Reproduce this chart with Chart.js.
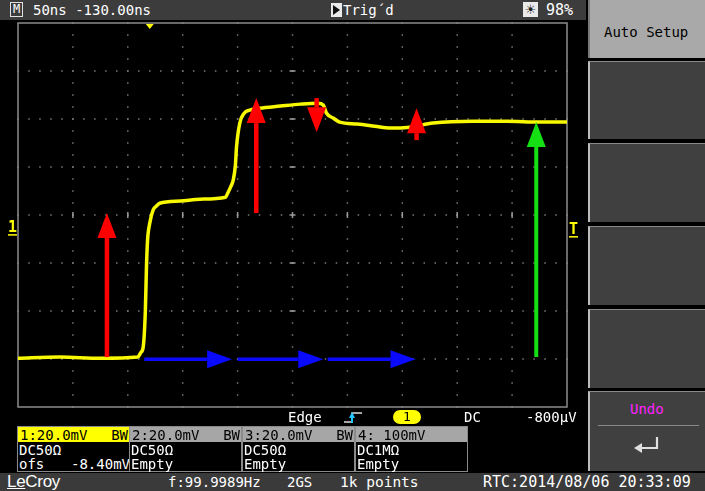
<!DOCTYPE html>
<html>
<head>
<meta charset="utf-8">
<script src="https://cdn.jsdelivr.net/npm/chart.js@4.4.0/dist/chart.umd.min.js"></script>
<style>
  html,body{margin:0;padding:0;background:#000;}
  body{width:705px;height:491px;position:relative;overflow:hidden;font-family:"DejaVu Sans Mono",monospace;color:#fff;}
  .abs{position:absolute;white-space:pre;}
  .ico{position:absolute;white-space:normal;line-height:0;}
  .ico svg{display:block;}
  .t{font-size:14px;line-height:16px;}
  #topbar{left:0;top:0;width:586px;height:20px;background:#3c3c3c;}
  .btn{position:absolute;left:588px;width:117px;background:#404040;border-left:2px solid #bdbdbd;border-top:1px solid #8a8a8a;box-sizing:border-box;}
  #status{left:0;top:473px;width:705px;height:18px;background:#3a3a3a;}
  .col{position:absolute;top:426px;width:113px;height:46px;box-sizing:border-box;border:1px solid #8a8a8a;background:#000;}
  .hdr{position:absolute;left:0;top:0;width:100%;height:15px;background:#a6a6a6;color:#000;}
</style>
</head>
<body>
<div class="abs" id="topbar"></div>
<div class="abs" style="left:10px;top:2px;width:13px;height:15px;border:1px solid #e0e0e0;box-sizing:border-box;font-size:12px;line-height:13px;text-align:center;">M</div>
<div class="abs t" style="left:33px;top:2px;">50ns -130.00ns</div>
<div class="abs" style="left:331px;top:3px;width:11px;height:14px;background:#eaeaea;"></div>
<div class="abs" style="left:333px;top:5px;width:0;height:0;border-top:5px solid transparent;border-bottom:5px solid transparent;border-left:7px solid #111;"></div>
<div class="abs t" style="left:343px;top:2px;">Trig´d</div>
<div class="abs" style="left:523px;top:2px;width:15px;height:15px;background:#eaeaea;color:#222;font-family:'DejaVu Sans';font-size:13px;line-height:15px;text-align:center;">☀</div>
<div class="abs" style="left:546px;top:2px;font-size:15px;line-height:16px;">98%</div>

<div class="btn" style="top:0;height:58px;background:#a9a9a9;border-top:none;border-left:2px solid #7a7a7a;"></div>
<div class="abs t" style="left:604px;top:24px;color:#000;">Auto Setup</div>
<div class="btn" style="top:61px;height:78px;"></div>
<div class="btn" style="top:143px;height:79px;"></div>
<div class="btn" style="top:226px;height:79px;"></div>
<div class="btn" style="top:309px;height:79px;"></div>
<div class="btn" style="top:391px;height:80px;"></div>
<div class="abs t" style="left:630px;top:401px;color:#ff22ff;">Undo</div>
<div class="abs" style="left:598px;top:425px;width:101px;height:1px;background:#8a8a8a;"></div>
<div class="ico" style="left:633px;top:436px;width:28px;height:18px;"><svg width="28" height="18"><path d="M24 1 V12 H7" stroke="#e0e0e0" stroke-width="2.2" fill="none"/><path d="M1 12 L9 7 L9 17 Z" fill="#e0e0e0"/></svg></div>

<div id="chartBox" class="abs" style="left:0;top:13px;width:585px;height:404px;"><canvas id="c"></canvas></div>

<div class="abs t" style="left:288px;top:409px;">Edge</div>
<div class="ico" style="left:343px;top:410px;width:20px;height:14px;"><svg width="20" height="14"><path d="M1 12 H9 V3 H19" stroke="#ddd" stroke-width="1.5" fill="none"/><path d="M9 2 L6 8 L12 8 Z" fill="#22c8ff"/><path d="M9 7 V13" stroke="#22c8ff" stroke-width="2"/></svg></div>
<div class="abs" style="left:393px;top:410px;width:28px;height:14px;border-radius:7px;background:#ffff00;color:#000;font-size:13px;line-height:14px;text-align:center;">1</div>
<div class="abs t" style="left:464px;top:409px;">DC</div>
<div class="abs t" style="left:526px;top:409px;">-800µV</div>

<div class="col" style="left:17px;"><div class="hdr t" style="background:#ffff00;"><span style="position:absolute;left:2px;top:0;">1:20.0mV</span><span style="position:absolute;right:1px;top:0;">BW</span></div>
  <div class="abs t" style="left:1px;top:15px;">DC50Ω</div><div class="abs t" style="left:1px;top:29px;">ofs</div><div class="abs t" style="left:53px;top:29px;">-8.40mV</div></div>
<div class="col" style="left:129px;"><div class="hdr t"><span style="position:absolute;left:2px;top:0;">2:20.0mV</span><span style="position:absolute;right:1px;top:0;">BW</span></div>
  <div class="abs t" style="left:1px;top:15px;">DC50Ω</div><div class="abs t" style="left:1px;top:29px;">Empty</div></div>
<div class="col" style="left:242px;"><div class="hdr t"><span style="position:absolute;left:2px;top:0;">3:20.0mV</span><span style="position:absolute;right:1px;top:0;">BW</span></div>
  <div class="abs t" style="left:1px;top:15px;">DC50Ω</div><div class="abs t" style="left:1px;top:29px;">Empty</div></div>
<div class="col" style="left:355px;"><div class="hdr t"><span style="position:absolute;left:2px;top:0;">4: 100mV</span></div>
  <div class="abs t" style="left:1px;top:15px;">DC1MΩ</div><div class="abs t" style="left:1px;top:29px;">Empty</div></div>

<div class="abs" id="status"></div>
<div class="abs" style="left:7px;top:472px;font-family:'Liberation Sans';font-size:17px;line-height:19px;letter-spacing:-0.3px;"><span style="text-decoration:underline;">Le</span>Croy</div>
<div class="abs t" style="left:168px;top:474px;">f:99.9989Hz</div>
<div class="abs t" style="left:287px;top:474px;">2GS</div>
<div class="abs" style="left:340px;top:474px;font-size:14.5px;line-height:16px;">1k points</div>
<div class="abs" style="left:483px;top:474px;font-size:15px;line-height:16px;">RTC:2014/08/06 20:33:09</div>

<script>
// ---- data (time in ns from left edge of screen, channel 1 in mV) ----
const timeNs = [0,38,75,109,112,114,116,117,118,120,123,126,129,148,166,189,191,194,196,198,199,202,206,211,220,239,257,273,278,281,287,293,309,325,339,357,378,414,445,475,500];
const ch1mV  = [-51.3,-50.8,-51.3,-50.8,-48.8,-46.7,-31.3,-13.3,-2.1,5.0,10.4,12.1,13.3,14.2,15.0,15.8,17.5,20.4,22.9,29.2,36.7,46.7,50.8,52.1,52.9,53.8,54.6,55.0,54.2,50.8,48.8,47.1,46.3,45.4,44.6,45.0,46.7,47.5,47.5,47.1,47.1];

// annotation arrows (data units)
const redArrowT    = [81, 217, 272, 363];
const redArrowFrom = [-50.8, 9.2, 57.1, 39.6];
const redArrowTo   = [9.2, 57.1, 42.9, 52.9];
const greenArrowT    = [472];
const greenArrowFrom = [-50.8];
const greenArrowTo   = [47.1];
const blueArrowV    = [-51.7, -51.7, -51.7];
const blueArrowFrom = [115, 200, 282];
const blueArrowTo   = [195, 278, 362];

// scope settings / tick labels
const timePerDivNs = 50;
const divisionsX = 10;
const voltsPerDivMv = 20;
const divisionsY = 8;
const offsetMv = -8.40;
const triggerNs = 120;
const triggerLevelMv = -0.8;

const yCenter = -offsetMv;
const yMin = yCenter - voltsPerDivMv * divisionsY / 2;
const yMax = yCenter + voltsPerDivMv * divisionsY / 2;
const xTicks = Array.from({length: divisionsX + 1}, (_, i) => i * timePerDivNs);
const yTicks = Array.from({length: divisionsY + 1}, (_, i) => yMin + i * voltsPerDivMv);

function arrow(ctx, x0, y0, x1, y1, color, shaft, headLen, headW) {
  const dx = x1 - x0, dy = y1 - y0, len = Math.hypot(dx, dy);
  const ux = dx / len, uy = dy / len, nx = -uy, ny = ux;
  const bx = x1 - ux * headLen, by = y1 - uy * headLen;
  ctx.fillStyle = color;
  ctx.beginPath();
  ctx.moveTo(x0 + nx * shaft / 2, y0 + ny * shaft / 2);
  ctx.lineTo(bx + nx * shaft / 2, by + ny * shaft / 2);
  ctx.lineTo(bx - nx * shaft / 2, by - ny * shaft / 2);
  ctx.lineTo(x0 - nx * shaft / 2, y0 - ny * shaft / 2);
  ctx.closePath();
  ctx.fill();
  ctx.beginPath();
  ctx.moveTo(x1, y1);
  ctx.lineTo(bx + nx * headW / 2, by + ny * headW / 2);
  ctx.lineTo(bx - nx * headW / 2, by - ny * headW / 2);
  ctx.closePath();
  ctx.fill();
}

const scopePlugin = {
  id: 'scope',
  beforeDatasetsDraw(chart) {
    const {ctx, chartArea: ca, scales: {x, y}} = chart;
    ctx.save();
    ctx.fillStyle = '#7a7a7a';
    const xSub = timePerDivNs / 5, ySub = voltsPerDivMv / 4;
    xTicks.slice(1, -1).forEach(t => {
      const px = x.getPixelForValue(t);
      for (let v = yMin; v <= yMax + 1e-6; v += ySub) {
        const py = y.getPixelForValue(v);
        ctx.fillRect(px - 0.75, py - 0.75, 1.5, 1.5);
      }
    });
    yTicks.slice(1, -1).forEach(v => {
      const py = y.getPixelForValue(v);
      for (let t = 0; t <= xTicks[xTicks.length - 1] + 1e-6; t += xSub) {
        const px = x.getPixelForValue(t);
        ctx.fillRect(px - 0.75, py - 0.75, 1.5, 1.5);
      }
    });
    const cx = x.getPixelForValue(xTicks[divisionsX / 2]);
    const cy = y.getPixelForValue(yTicks[divisionsY / 2]);
    ctx.fillStyle = '#9a9a9a';
    yTicks.slice(1, -1).forEach(v => {
      const py = y.getPixelForValue(v);
      ctx.fillRect(cx - 3, py - 0.75, 6, 1.5);
    });
    xTicks.slice(1, -1).forEach(t => {
      const px = x.getPixelForValue(t);
      ctx.fillRect(px - 0.75, cy - 3, 1.5, 6);
    });
    ctx.strokeStyle = '#8c8c8c';
    ctx.lineWidth = 1.5;
    ctx.strokeRect(ca.left, ca.top, ca.right - ca.left, ca.bottom - ca.top);
    ctx.restore();
  },
  afterDatasetsDraw(chart) {
    const {ctx, chartArea: ca, scales: {x, y}} = chart;
    ctx.save();
    redArrowT.forEach((t, i) => {
      const px = x.getPixelForValue(t);
      arrow(ctx, px, y.getPixelForValue(redArrowFrom[i]), px, y.getPixelForValue(redArrowTo[i]), '#ff0000', 4.5, 25, 19);
    });
    greenArrowT.forEach((t, i) => {
      const px = x.getPixelForValue(t);
      arrow(ctx, px, y.getPixelForValue(greenArrowFrom[i]), px, y.getPixelForValue(greenArrowTo[i]), '#14e014', 4, 25, 19);
    });
    blueArrowV.forEach((v, i) => {
      const py = y.getPixelForValue(v);
      arrow(ctx, x.getPixelForValue(blueArrowFrom[i]), py, x.getPixelForValue(blueArrowTo[i]), py, '#0a0aff', 3.5, 25, 18);
    });
    // trigger position marker
    const tx = x.getPixelForValue(triggerNs);
    ctx.fillStyle = '#ffff00';
    ctx.beginPath();
    ctx.moveTo(tx - 4, ca.top + 1);
    ctx.lineTo(tx + 4, ca.top + 1);
    ctx.lineTo(tx, ca.top + 6);
    ctx.closePath();
    ctx.fill();
    // channel ground marker and trigger level marker
    ctx.font = 'bold 15px "DejaVu Sans Mono"';
    ctx.textBaseline = 'alphabetic';
    const gy = y.getPixelForValue(0);
    ctx.fillText('1', ca.left - 10, gy - 3);
    ctx.fillRect(ca.left - 10, gy - 1, 9, 1.5);
    const ty = y.getPixelForValue(triggerLevelMv);
    ctx.fillText('T', ca.right + 2, ty - 3);
    ctx.fillRect(ca.right + 2, ty - 1, 9, 1.5);
    ctx.restore();
  }
};

new Chart(document.getElementById('c'), {
  type: 'line',
  data: {
    datasets: [{
      data: timeNs.map((t, i) => ({x: t, y: ch1mV[i]})),
      borderColor: '#f8f800',
      borderWidth: 3.5,
      pointRadius: 0,
      cubicInterpolationMode: 'monotone',
      fill: false
    }]
  },
  options: {
    responsive: true,
    maintainAspectRatio: false,
    animation: false,
    layout: {padding: {left: 18, right: 18, top: 10, bottom: 10}},
    plugins: {legend: {display: false}, tooltip: {enabled: false}},
    scales: {
      x: {type: 'linear', min: xTicks[0], max: xTicks[xTicks.length - 1], display: false},
      y: {type: 'linear', min: yMin, max: yMax, display: false}
    }
  },
  plugins: [scopePlugin]
});
</script>
</body>
</html>
